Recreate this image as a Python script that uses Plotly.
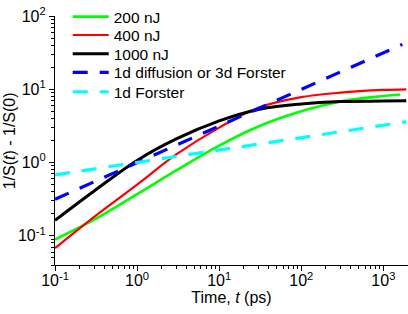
import plotly.graph_objects as go

# ---- data ----
t_black = [0.1, 0.3, 1, 3, 10, 30, 100, 300, 1000, 1900]
y_black = [0.163, 0.41, 1.07, 2.1, 3.7, 5.3, 6.3, 6.8, 6.9, 7.0]

t_red = [0.1, 0.3, 1, 3, 10, 30, 100, 300, 1000, 1900]
y_red = [0.068, 0.182, 0.50, 1.29, 3.0, 5.6, 7.8, 9.0, 9.8, 10.0]

t_green = [0.1, 0.3, 1, 3, 10, 30, 100, 300, 1000, 1600]
y_green = [0.089, 0.166, 0.37, 0.78, 1.7, 3.1, 5.0, 6.8, 8.1, 8.5]

t_blue = [0.1, 1700]
y_blue = [0.316, 41]

t_cyan = [0.1, 1900]
y_cyan = [0.68, 3.6]

names = ["200 nJ", "400 nJ", "1000 nJ", "1d diffusion or 3d Forster", "1d Forster"]

x_tickvals = [0.1, 1, 10, 100, 1000]
x_ticktext = ["10<sup>-1</sup>", "10<sup>0</sup>", "10<sup>1</sup>", "10<sup>2</sup>", "10<sup>3</sup>"]
y_tickvals = [0.1, 1, 10, 100]
y_ticktext = ["10<sup>-1</sup>", "10<sup>0</sup>", "10<sup>1</sup>", "10<sup>2</sup>"]

x_title = "Time, <i>t</i> (ps)"
y_title = "1/S(<i>t</i>) - 1/S(0)"

FONT = "Liberation Sans, Arial, sans-serif"

legend_ids = ["legend", "legend2", "legend3", "legend4", "legend5"]
legend_y = [0.996, 0.922, 0.847, 0.772, 0.694]

fig = go.Figure()
fig.add_trace(go.Scatter(x=t_green, y=y_green, mode="lines", name=names[0], legend=legend_ids[0],
                         line=dict(color="#00ff00", width=2.6, shape="spline")))
fig.add_trace(go.Scatter(x=t_red, y=y_red, mode="lines", name=names[1], legend=legend_ids[1],
                         line=dict(color="#ff0000", width=2.2, shape="spline")))
fig.add_trace(go.Scatter(x=t_black, y=y_black, mode="lines", name=names[2], legend=legend_ids[2],
                         line=dict(color="#000000", width=3, shape="spline")))
fig.add_trace(go.Scatter(x=t_blue, y=y_blue, mode="lines", name=names[3], legend=legend_ids[3],
                         line=dict(color="#0000ff", width=3.2, dash="15px,12px")))
fig.add_trace(go.Scatter(x=t_cyan, y=y_cyan, mode="lines", name=names[4], legend=legend_ids[4],
                         line=dict(color="#00ffff", width=3.2, dash="15px,12px")))

minor = dict(ticks="outside", ticklen=3, tickwidth=1, tickcolor="black", dtick="D1", showgrid=False)

legends = {}
for lid, ly in zip(legend_ids, legend_y):
    legends[lid] = dict(x=0.036, y=ly, xanchor="left", yanchor="middle",
                        font=dict(size=15.5, family=FONT), bgcolor="rgba(0,0,0,0)",
                        itemwidth=36)

fig.update_layout(
    width=408, height=314,
    margin=dict(l=55, r=0, t=10, b=49),
    paper_bgcolor="white", plot_bgcolor="white",
    font=dict(family=FONT, size=16, color="black"),
    showlegend=True,
    **legends,
)
fig.update_xaxes(
    type="log", range=[-1, 3.3], tickvals=x_tickvals, ticktext=x_ticktext,
    automargin=False,
    showline=True, linecolor="black", linewidth=1.2, mirror=False,
    ticks="outside", ticklen=5, tickwidth=1, tickcolor="black",
    showgrid=False, zeroline=False,
    tickfont=dict(size=16, family=FONT), ticklabelstandoff=-4,
    minor=minor,
    title=dict(text=x_title, font=dict(size=16, family=FONT), standoff=0),
)
fig.update_yaxes(
    type="log", range=[-1.398, 2], tickvals=y_tickvals, ticktext=y_ticktext,
    automargin=False,
    showline=True, linecolor="black", linewidth=1.2, mirror=False,
    ticks="outside", ticklen=5, tickwidth=1, tickcolor="black",
    showgrid=False, zeroline=False,
    tickfont=dict(size=16, family=FONT),
    minor=minor,
)
fig.add_annotation(text=y_title, xref="paper", yref="paper", x=-0.128, y=0.5,
                   xanchor="center", yanchor="middle", textangle=-90, showarrow=False,
                   font=dict(size=16, family=FONT))

fig.write_html("out.html", config={"displayModeBar": False},
               post_script="document.body.style.margin='0';")
